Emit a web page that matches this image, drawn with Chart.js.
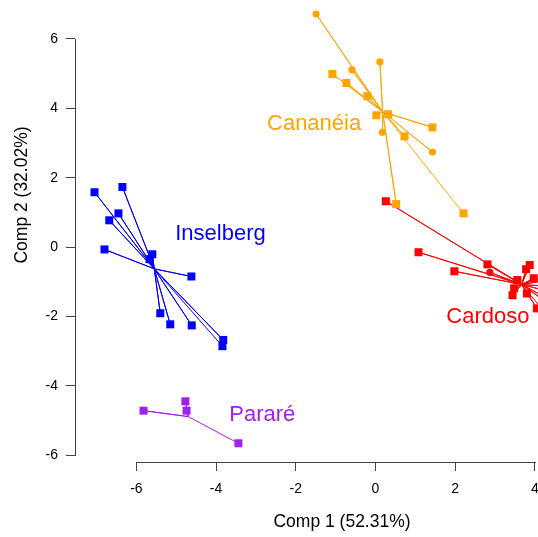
<!DOCTYPE html>
<html><head><meta charset="utf-8">
<script src="https://cdn.jsdelivr.net/npm/chart.js@4"></script>
<style>
html,body{margin:0;padding:0;overflow:hidden;background:#fff;width:538px;height:537px}
#wrap{position:absolute;left:0;top:-80px;width:620px;height:617px}
</style></head><body>
<div id="wrap"><canvas id="c" width="620" height="617"></canvas></div>
<script>
// ---- data ----
const groups = ['Inselberg', 'Cananéia', 'Cardoso', 'Pararé'];
const groupColors = ['#0000FF', '#FFA500', '#FF0000', '#A020F0'];

const insX = [-7.05, -6.35, -6.45, -6.68, -6.80, -5.60, -5.67, -4.62, -5.40, -5.15, -4.61, -3.82, -3.84];
const insY = [1.58, 1.73, 0.97, 0.77, -0.07, -0.21, -0.35, -0.85, -1.91, -2.23, -2.26, -2.68, -2.86];
const insShape = ['rect','rect','rect','rect','rect','rect','rect','rect','rect','rect','rect','rect','rect'];

const canX = [-1.49, -0.59, 0.11, -1.08, -0.73, -0.20, 0.02, 0.32, 0.17, 1.43, 0.73, 1.43, 0.52, 2.21];
const canY = [6.72, 5.11, 5.34, 4.99, 4.73, 4.35, 3.80, 3.83, 3.31, 3.45, 3.19, 2.74, 1.24, 0.97];
const canShape = ['circle','circle','circle','rect','rect','rect','rect','rect','circle','rect','rect','circle','rect','rect'];

const carX = [0.26, 1.08, 1.98, 2.81, 2.87, 3.87, 3.78, 3.56, 3.97, 3.48, 3.44, 3.80, 4.05, 5.34, 5.00, 5.10, 4.90, 4.60, 4.50, 4.40];
const carY = [1.32, -0.15, -0.70, -0.50, -0.73, -0.52, -0.64, -0.95, -0.90, -1.19, -1.39, -1.34, -1.77, -0.75, -0.55, -1.20, -1.45, -1.85, -1.60, -2.10];
const carShape = ['rect','rect','rect','rect','circle','rect','rect','rect','rect','rect','rect','rect','rect','rect','rect','rect','rect','rect','rect','rect'];

const parX = [-5.82, -4.77, -4.74, -3.44];
const parY = [-4.72, -4.45, -4.72, -5.66];
const parShape = ['rect','rect','rect','rect'];

const centroidX = [-5.55, 0.18, 3.67, -4.70];
const centroidY = [-0.63, 3.90, -1.08, -4.89];

const labelX = [-3.89, -1.54, 2.82, -2.84];
const labelY = [0.37, 3.55, -2.02, -4.85];

const xTicks = [-6, -4, -2, 0, 2, 4];
const yTicks = [-6, -4, -2, 0, 2, 4, 6];
const xTitle = 'Comp 1 (52.31%)';
const yTitle = 'Comp 2 (32.02%)';

// ---- build ----
const FONT = '"Liberation Sans", Arial, Helvetica, sans-serif';
const seriesX = [insX, canX, carX, parX];
const seriesY = [insY, canY, carY, parY];
const seriesShape = [insShape, canShape, carShape, parShape];

const datasets = [];
groups.forEach((g, gi) => {
  const xs = seriesX[gi], ys = seriesY[gi];
  const spider = [];
  xs.forEach((x, i) => {
    spider.push({x: centroidX[gi], y: centroidY[gi]});
    spider.push({x: x, y: ys[i]});
  });
  datasets.push({
    label: g + ' spider', data: spider, showLine: true, order: 2,
    borderColor: groupColors[gi], borderWidth: 1, pointRadius: 0, tension: 0, fill: false
  });
  const shapes = seriesShape[gi];
  datasets.push({
    label: g, data: xs.map((x, i) => ({x: x, y: ys[i]})), showLine: false, order: 1,
    backgroundColor: groupColors[gi], borderColor: groupColors[gi], borderWidth: 0,
    pointStyle: ctx => shapes[ctx.dataIndex],
    pointRadius: ctx => shapes[ctx.dataIndex] === 'rect' ? 5.66 : 3.6,
    pointBorderWidth: 0
  });
});

const deco = {
  id: 'deco',
  afterDatasetsDraw(chart) {
    const ctx = chart.ctx, xs = chart.scales.x, ys = chart.scales.y;
    ctx.save();
    ctx.font = '22px ' + FONT;
    ctx.textAlign = 'center';
    ctx.textBaseline = 'middle';
    groups.forEach((g, i) => {
      ctx.fillStyle = groupColors[i];
      ctx.fillText(g, xs.getPixelForValue(labelX[i]), ys.getPixelForValue(labelY[i]));
    });
    ctx.restore();
  },
  afterDraw(chart) {
    const ctx = chart.ctx, xs = chart.scales.x, ys = chart.scales.y, a = chart.chartArea;
    ctx.save();
    ctx.strokeStyle = '#444';
    ctx.lineWidth = 1;
    const by = Math.round(a.bottom) + 0.5;
    const x0 = Math.round(xs.getPixelForValue(xTicks[0])) + 0.5;
    const x1 = Math.round(xs.getPixelForValue(xTicks[xTicks.length - 1])) + 0.5;
    ctx.beginPath(); ctx.moveTo(x0 - 0.5, by); ctx.lineTo(x1 + 0.5, by); ctx.stroke();
    const lx = Math.round(a.left) + 0.5;
    const y0 = Math.round(ys.getPixelForValue(yTicks[0])) + 0.5;
    const y1 = Math.round(ys.getPixelForValue(yTicks[yTicks.length - 1])) + 0.5;
    ctx.beginPath(); ctx.moveTo(lx, y0 + 0.5); ctx.lineTo(lx, y1 - 0.5); ctx.stroke();
    ctx.restore();
  }
};

new Chart(document.getElementById('c'), {
  type: 'scatter',
  data: {datasets: datasets},
  options: {
    responsive: false, animation: false, events: [],
    layout: {padding: {top: 8, right: 11, bottom: 0, left: 0}},
    plugins: {legend: {display: false}, tooltip: {enabled: false}},
    scales: {
      x: {
        type: 'linear', min: -7.54, max: 5.86,
        afterBuildTicks: s => { s.ticks = xTicks.map(v => ({value: v})); },
        afterFit: s => { s.height = 75; s.paddingLeft = 0; s.paddingRight = 0; },
        grid: {drawOnChartArea: false, drawTicks: true, tickLength: 9, color: '#444', lineWidth: 1},
        border: {display: false},
        ticks: {font: {family: FONT, size: 14}, color: '#000', padding: 10, maxRotation: 0, autoSkip: false},
        title: {display: true, text: xTitle, font: {family: FONT, size: 17.5}, color: '#000', padding: {top: 0, bottom: 4}}
      },
      y: {
        type: 'linear', min: -6.20, max: 9.20,
        afterBuildTicks: s => { s.ticks = yTicks.map(v => ({value: v})); },
        afterFit: s => { s.width = 75; s.paddingTop = 0; s.paddingBottom = 0; },
        grid: {drawOnChartArea: false, drawTicks: true, tickLength: 9, color: '#444', lineWidth: 1},
        border: {display: false},
        ticks: {font: {family: FONT, size: 14}, color: '#000', padding: 8, autoSkip: false},
        title: {display: true, text: yTitle, font: {family: FONT, size: 17.5}, color: '#000', padding: {top: 12, bottom: 0}}
      }
    }
  },
  plugins: [deco]
});
</script>
</body></html>
